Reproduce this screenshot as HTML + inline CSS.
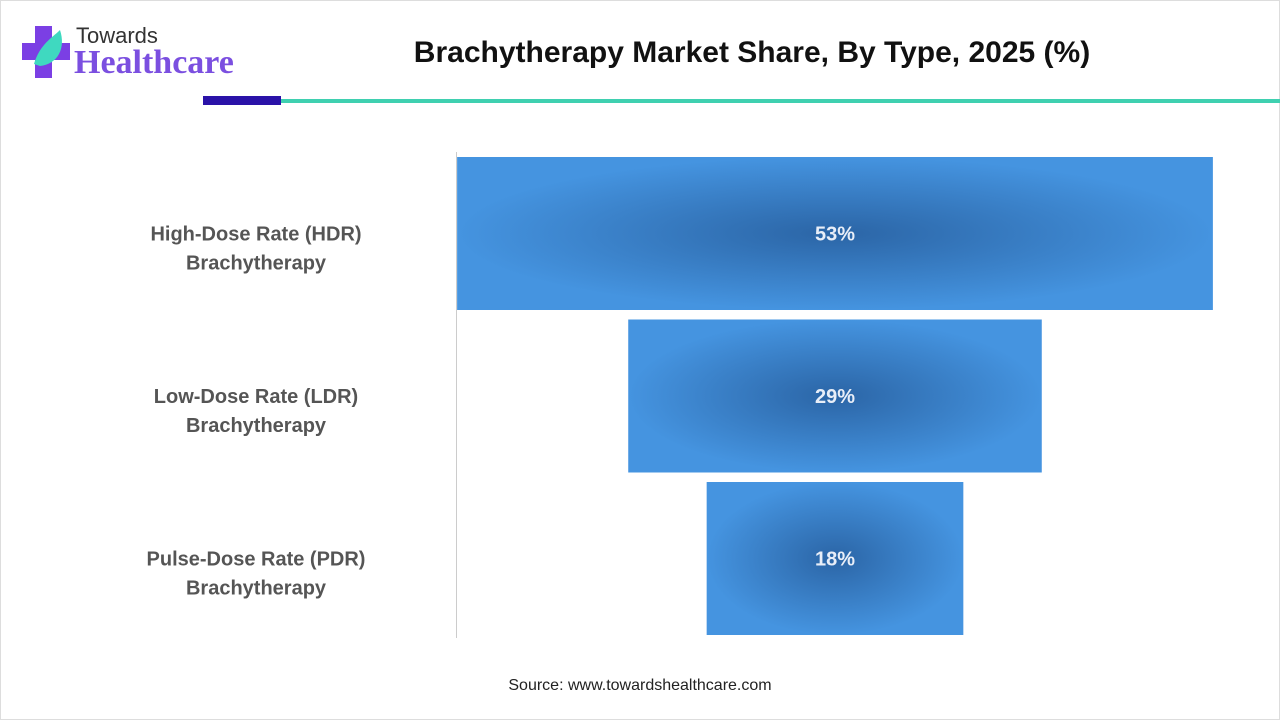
<!DOCTYPE html>
<html><head><meta charset="utf-8"><style>
body{margin:0;width:1280px;height:720px;background:#fff;font-family:"Liberation Sans",sans-serif;position:relative;overflow:hidden}
.abs{position:absolute}
</style></head><body>
<div class="abs" style="left:0;top:0;width:1278px;height:718px;border:1px solid #ddd"></div>
<div class="abs" style="left:22px;top:22px;width:220px;height:60px">
<svg width="60" height="60" style="position:absolute;left:0;top:0">
<rect x="13" y="4" width="17" height="52" fill="#7B3FE4"/><rect x="0" y="21" width="48" height="17" fill="#7B3FE4"/>
<path d="M12 42 C18 22 30 16 38 8 C44 26 36 42 18 44 Z" fill="#3FD9C0"/></svg>
<div class="abs" style="left:54px;top:1px;font-size:22px;color:#333">Towards</div>
<div class="abs" style="left:52px;top:22px;font-size:34px;font-weight:bold;color:#7B4FE0;font-family:'Liberation Serif',serif">Healthcare</div>
</div>
<div class="abs" style="left:300px;top:36px;width:904px;text-align:center;font-size:30px;font-weight:bold;color:#111">Brachytherapy Market Share, By Type, 2025 (%)</div>
<div class="abs" style="left:203px;top:96px;width:78px;height:9px;background:#2A12A8"></div>
<div class="abs" style="left:281px;top:99px;width:999px;height:4px;background:#3FD0B0"></div>
<svg class="abs" style="left:0;top:0" width="1280" height="720" id="chart">
<defs><radialGradient id="g" cx="50%" cy="50%" r="50%"><stop offset="0" stop-color="#2B65A6"/><stop offset="1" stop-color="#4594E0"/></radialGradient></defs>
<line x1="456.5" y1="152" x2="456.5" y2="638" stroke="#ccc"/>
</svg>
<div class="abs" style="left:0;top:677px;width:1280px;text-align:center;font-size:16px;color:#222">Source: www.towardshealthcare.com</div>
<script>
const categories=["High-Dose Rate (HDR)|Brachytherapy","Low-Dose Rate (LDR)|Brachytherapy","Pulse-Dose Rate (PDR)|Brachytherapy"];
const values=[53,29,18];
const labels=["53%","29%","18%"];
const svg=document.getElementById('chart');
const NS='http://www.w3.org/2000/svg';
const cx=835,pxPer=14.26,top0=157,step=162.5,h=153;
const x=v=>v*pxPer;
values.forEach((v,i)=>{
 const y=top0+i*step,w=x(v);
 const r=document.createElementNS(NS,'rect');
 r.setAttribute('x',cx-w/2);r.setAttribute('y',y);r.setAttribute('width',w);r.setAttribute('height',h);r.setAttribute('fill','url(#g)');
 
 
 svg.appendChild(r);
 const t=document.createElementNS(NS,'text');
 t.setAttribute('x',cx);t.setAttribute('y',y+h/2+7);t.setAttribute('text-anchor','middle');t.setAttribute('fill','#e8eef8');t.setAttribute('font-size','20');t.setAttribute('font-weight','bold');t.setAttribute('font-family','Liberation Sans, sans-serif');
 t.textContent=labels[i];
 
 
 svg.appendChild(t);
 categories[i].split('|').forEach((ln,j)=>{
  const c=document.createElementNS(NS,'text');
  c.setAttribute('x',256);c.setAttribute('y',y+h/2+7+j*29);c.setAttribute('text-anchor','middle');c.setAttribute('fill','#555');c.setAttribute('font-size','20');c.setAttribute('font-weight','bold');c.setAttribute('font-family','Liberation Sans, sans-serif');
  c.textContent=ln;
  
  
  svg.appendChild(c);
 });
});
</script>
</body></html>
